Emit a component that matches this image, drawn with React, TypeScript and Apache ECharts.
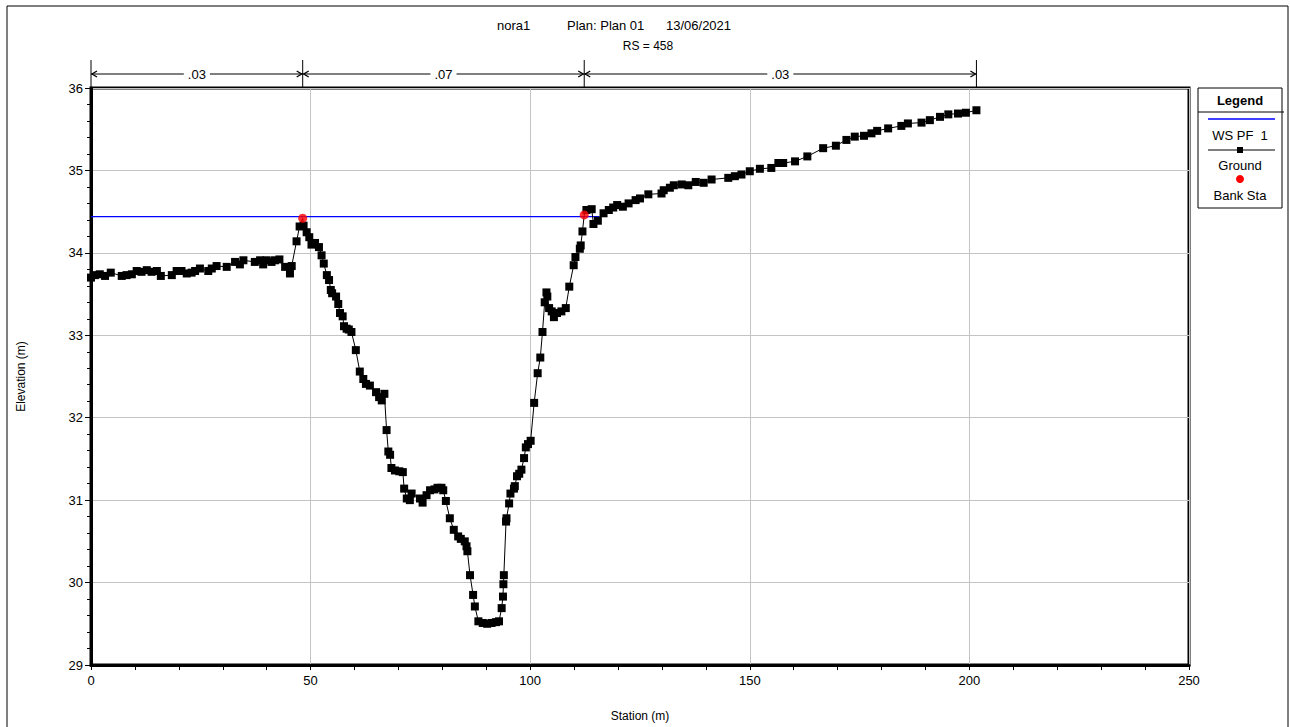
import React, { useEffect, useRef } from "react";
import * as echarts from "echarts";

// ---- data ----
const groundStation = [
  0, 0.9, 2.0, 3.2, 4.5, 7.0, 8.1, 9.3, 10.4, 11.5, 12.7, 13.8, 15.0, 15.9, 18.4, 19.5, 20.6, 21.8, 22.9, 23.7,
  24.8, 26.7, 27.5, 28.6, 30.9, 32.8, 33.9, 34.7, 37.3, 38.5, 39.2, 40.0, 41.1, 41.9, 42.9, 44.2, 45.3, 45.7,
  46.8, 47.5, 48.2, 48.4, 49.1, 49.7, 50.2, 51.0, 51.9, 52.5, 53.0, 53.7, 54.2, 54.6, 54.9, 55.8, 56.3, 56.7,
  57.3, 57.6, 58.2, 58.7, 59.3, 60.3, 61.2, 62.0, 62.6, 63.5, 64.9, 65.6, 66.2, 66.8, 67.3, 67.7, 68.1, 68.4,
  69.2, 70.2, 71.0, 71.3, 71.9, 72.6, 73.0, 74.9, 75.5, 76.4, 77.2, 78.2, 78.9, 79.8, 80.2, 80.8, 81.7, 82.6,
  83.6, 84.2, 85.1, 85.5, 85.7, 86.3, 87.0, 87.4, 88.2, 89.2, 90.2, 91.2, 92.2, 92.9, 93.5, 93.8, 93.9, 94.0,
  94.5, 94.6, 95.2, 95.5, 96.3, 96.5, 97.0, 97.5, 98.0, 98.6, 99.0, 99.5, 100.1, 100.9, 101.7, 102.3, 102.8,
  103.3, 103.7, 103.9, 104.3, 104.9, 105.4, 106.1, 107.1, 108.1, 108.9, 109.9, 110.3, 111.3, 111.5, 111.9,
  112.3, 112.8, 114.0, 114.4, 115.4, 116.7, 117.9, 118.9, 119.8, 121.1, 122.4, 124.0, 125.0, 126.9, 129.9,
  130.4, 131.8, 132.7, 134.5, 136.0, 137.7, 139.5, 141.3, 145.1, 146.6, 148.1, 150.0, 152.3, 154.9, 156.5,
  157.6, 160.3, 163.1, 166.7, 169.6, 172.0, 173.9, 176.0, 177.7, 179.0, 181.5, 184.5, 186.0, 189.1, 191.0,
  193.3, 195.2, 197.4, 199.2, 201.6,
];
const groundElevation = [
  33.70, 33.73, 33.74, 33.72, 33.76, 33.72, 33.73, 33.74, 33.78, 33.77, 33.79, 33.77, 33.78, 33.72, 33.73, 33.78,
  33.78, 33.75, 33.76, 33.78, 33.81, 33.78, 33.81, 33.84, 33.83, 33.89, 33.86, 33.91, 33.89, 33.91, 33.86, 33.91,
  33.89, 33.91, 33.92, 33.83, 33.75, 33.84, 34.14, 34.32, 34.42, 34.33, 34.25, 34.19, 34.10, 34.12, 34.07, 33.97,
  33.87, 33.73, 33.67, 33.55, 33.51, 33.47, 33.38, 33.27, 33.23, 33.11, 33.08, 33.07, 33.04, 32.82, 32.56, 32.47,
  32.41, 32.39, 32.31, 32.25, 32.21, 32.29, 31.85, 31.59, 31.55, 31.39, 31.36, 31.35, 31.34, 31.14, 31.02, 31.00,
  31.08, 31.02, 30.97, 31.06, 31.12, 31.13, 31.15, 31.15, 31.12, 30.99, 30.78, 30.64, 30.56, 30.53, 30.50, 30.44,
  30.38, 30.09, 29.85, 29.71, 29.53, 29.51, 29.50, 29.51, 29.52, 29.53, 29.69, 29.83, 29.98, 30.09, 30.74, 30.78,
  30.96, 31.08, 31.14, 31.17, 31.29, 31.32, 31.37, 31.51, 31.64, 31.68, 31.72, 32.18, 32.54, 32.73, 33.04, 33.40,
  33.52, 33.47, 33.33, 33.29, 33.22, 33.27, 33.29, 33.33, 33.59, 33.85, 33.95, 34.05, 34.09, 34.26, 34.46, 34.52,
  34.53, 34.35, 34.39, 34.48, 34.52, 34.55, 34.58, 34.56, 34.60, 34.64, 34.66, 34.71, 34.72, 34.76, 34.79, 34.82,
  34.83, 34.82, 34.86, 34.85, 34.89, 34.91, 34.93, 34.95, 34.99, 35.02, 35.03, 35.09, 35.09, 35.11, 35.17, 35.27,
  35.30, 35.37, 35.41, 35.42, 35.45, 35.48, 35.51, 35.54, 35.57, 35.58, 35.61, 35.65, 35.68, 35.69, 35.70, 35.73,
];
const wsStations = [0, 115.8];
const wsElevation = 34.44;
const bankStations = [48.2, 112.3];
const bankElevations = [34.42, 34.46];
const manningBreaks = [0, 48.2, 112.3, 201.6];
const manningValues = [".03", ".07", ".03"];
const xTicks = { min: 0, max: 250, interval: 50 };
const yTicks = { min: 29, max: 36, interval: 1 };

const FONT = "'Liberation Sans', Arial, Helvetica, sans-serif";

export default function App() {
  const ref = useRef<HTMLDivElement>(null);
  useEffect(() => {
    const chart = echarts.init(ref.current!, null, { renderer: "svg" });
    const groundData = groundStation.map((s, i) =>
      bankStations.includes(s)
        ? { value: [s, groundElevation[i]], symbol: "none" }
        : [s, groundElevation[i]]
    );
    const option: any = {
      animation: false,
      backgroundColor: "#ffffff",
      grid: { left: 91, right: 101, top: 88, bottom: 57, show: true, borderColor: "#000", borderWidth: 3, backgroundColor: "#fff" },
      xAxis: {
        type: "value",
        min: xTicks.min,
        max: xTicks.max,
        interval: xTicks.interval,
        name: "Station (m)",
        nameLocation: "middle",
        nameGap: 45,
        nameTextStyle: { fontFamily: FONT, fontSize: 12, color: "#000" },
        axisLine: { show: true, lineStyle: { color: "#000", width: 3 } },
        axisTick: { show: true, inside: false, length: 5, lineStyle: { color: "#000" } },
        minorTick: { show: true, splitNumber: 5, length: 5, lineStyle: { color: "#000" } },
        axisLabel: { fontFamily: FONT, fontSize: 13, color: "#000", margin: 9 },
        splitLine: { show: true, lineStyle: { color: "#c4c4c4", width: 1 } },
      },
      yAxis: {
        type: "value",
        min: yTicks.min,
        max: yTicks.max,
        interval: yTicks.interval,
        name: "Elevation (m)",
        nameLocation: "middle",
        nameRotate: 90,
        nameGap: 64,
        nameTextStyle: { fontFamily: FONT, fontSize: 12, color: "#000" },
        axisLine: { show: true, lineStyle: { color: "#000", width: 3 } },
        axisTick: { show: true, inside: false, length: 6, lineStyle: { color: "#000" } },
        minorTick: { show: true, splitNumber: 5, length: 4, lineStyle: { color: "#000" } },
        axisLabel: { fontFamily: FONT, fontSize: 13, color: "#000", margin: 8 },
        splitLine: { show: true, lineStyle: { color: "#c4c4c4", width: 1 } },
      },
      series: [
        {
          name: "WS PF 1",
          type: "line",
          data: wsStations.map((s) => [s, wsElevation]),
          symbol: "none",
          lineStyle: { color: "#0000ff", width: 1.3 },
          z: 2,
        },
        {
          name: "Ground",
          type: "line",
          data: groundData,
          symbol: "rect",
          symbolSize: 8,
          showAllSymbol: true,
          itemStyle: { color: "#000" },
          lineStyle: { color: "#000", width: 1 },
          z: 3,
        },
        {
          name: "Bank Sta",
          type: "scatter",
          data: bankStations.map((s, i) => [s, bankElevations[i]]),
          symbol: "circle",
          symbolSize: 9,
          itemStyle: { color: "#ff0000" },
          z: 4,
        },
      ],
    };
    chart.setOption(option);

    const els: any[] = [];
    // outer frame
    els.push({ type: "rect", shape: { x: 7, y: 6, width: 1281, height: 740 }, style: { fill: "none", stroke: "#000", lineWidth: 1 }, silent: true });
    // title
    const txt = (text: string, x: number, y: number, opts: any = {}) => ({
      type: "text",
      style: { text, x, y, fill: "#000", font: `${opts.weight || "normal"} ${opts.size || 13}px ${FONT}`, textAlign: opts.align || "center", textVerticalAlign: "middle", verticalAlign: "middle" },
      silent: true,
    });
    els.push(txt("nora1", 497, 25, { align: "left" }));
    els.push(txt("Plan: Plan 01", 567, 25, { align: "left" }));
    els.push(txt("13/06/2021", 666, 25, { align: "left" }));
    els.push(txt("RS = 458", 648, 46, { size: 12 }));

    // manning brackets
    const yBar = 74;
    const px = manningBreaks.map((s) => chart.convertToPixel({ gridIndex: 0 }, [s, yTicks.max])[0]);
    px.forEach((x) => {
      els.push({ type: "line", shape: { x1: x, y1: 60, x2: x, y2: 88 }, style: { stroke: "#000", lineWidth: 1 }, silent: true });
    });
    manningValues.forEach((v, i) => {
      const x1 = px[i];
      const x2 = px[i + 1];
      els.push({ type: "line", shape: { x1, y1: yBar, x2, y2: yBar }, style: { stroke: "#000", lineWidth: 1 }, silent: true });
      els.push({ type: "polyline", shape: { points: [[x1 + 6, yBar - 3], [x1 + 1, yBar], [x1 + 6, yBar + 3]] }, style: { stroke: "#000", fill: "none", lineWidth: 1.3 }, silent: true });
      els.push({ type: "polyline", shape: { points: [[x2 - 6, yBar - 3], [x2 - 1, yBar], [x2 - 6, yBar + 3]] }, style: { stroke: "#000", fill: "none", lineWidth: 1.3 }, silent: true });
      els.push({
        type: "text",
        style: { text: v, x: (x1 + x2) / 2, y: yBar, fill: "#000", font: `13px ${FONT}`, textAlign: "center", textVerticalAlign: "middle", verticalAlign: "middle", backgroundColor: "#fff", padding: [0, 4] },
        silent: true,
      });
    });

    // legend box
    const lx = 1198, ly = 88, lw = 84, lh = 120;
    const cx = lx + lw / 2;
    els.push({ type: "rect", shape: { x: lx, y: ly, width: lw, height: lh }, style: { fill: "#fff", stroke: "#000", lineWidth: 1 }, silent: true });
    els.push({ type: "line", shape: { x1: lx, y1: 112, x2: lx + lw + 2, y2: 112 }, style: { stroke: "#000", lineWidth: 1 }, silent: true });
    els.push(txt("Legend", cx, 100, { weight: "bold" }));
    els.push({ type: "line", shape: { x1: 1208, y1: 119, x2: 1275, y2: 119 }, style: { stroke: "#0000ff", lineWidth: 1.3 }, silent: true });
    els.push(txt("WS PF  1", cx, 135));
    els.push({ type: "line", shape: { x1: 1208, y1: 150, x2: 1275, y2: 150 }, style: { stroke: "#000", lineWidth: 1 }, silent: true });
    els.push({ type: "rect", shape: { x: cx - 3, y: 147, width: 6, height: 6 }, style: { fill: "#000" }, silent: true });
    els.push(txt("Ground", cx, 165));
    els.push({ type: "circle", shape: { cx, cy: 179, r: 4 }, style: { fill: "#ff0000" }, silent: true });
    els.push(txt("Bank Sta", cx, 195));

    chart.setOption({ graphic: { elements: els } });
    return () => chart.dispose();
  }, []);
  return <div ref={ref} style={{ position: "absolute", left: 0, top: 0, width: 1290, height: 727 }} />;
}
